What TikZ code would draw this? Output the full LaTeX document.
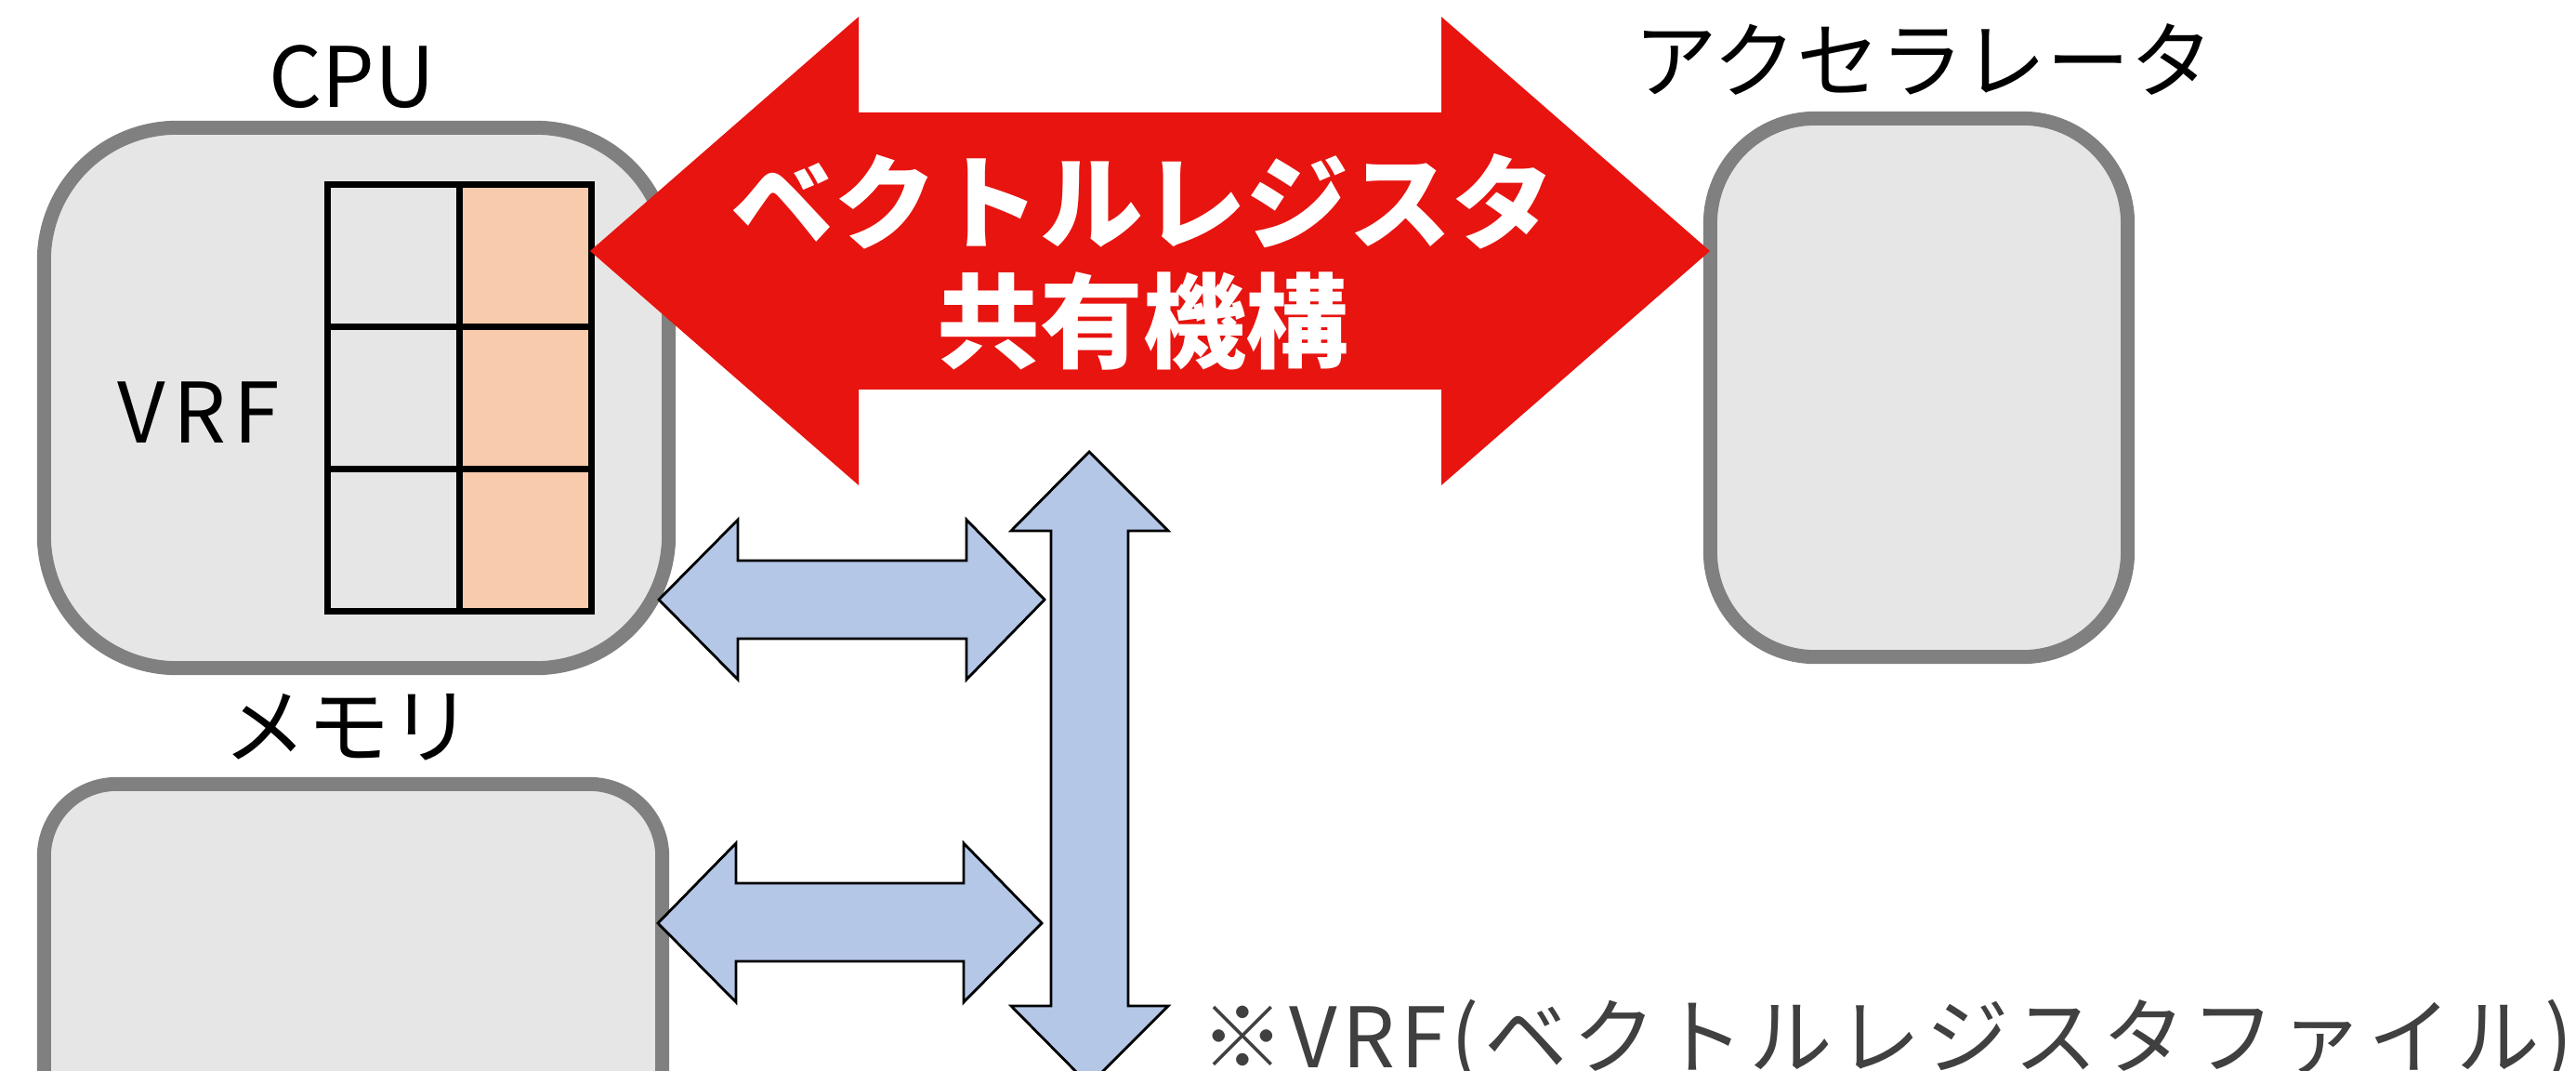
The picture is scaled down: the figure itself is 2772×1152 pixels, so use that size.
\documentclass[tikz,border=0pt]{standalone}
\usepackage{fontspec}
\setmainfont{Noto Sans CJK JP}
\definecolor{boxgray}{HTML}{E6E6E6}
\definecolor{boxline}{HTML}{808080}
\definecolor{peach}{HTML}{F8CBAD}
\definecolor{vecred}{HTML}{E71410}
\definecolor{busblue}{HTML}{B4C7E7}
\definecolor{notegray}{HTML}{404040}
\begin{document}
\begin{tikzpicture}[x=0.01cm,y=-0.01cm,
  lbl/.style={font=\fontsize{25.5}{30}\selectfont,inner sep=0pt},
  unit/.style={draw=boxline,fill=boxgray,line width=0.15cm,inner sep=0pt},
  cellL/.style={draw=black,fill=boxgray,line width=0.07cm,inner sep=0pt,minimum width=1.42cm,minimum height=1.53cm},
  cellR/.style={cellL,fill=peach},
  vecarrow/.style={fill=vecred},
  busarrow/.style={fill=busblue,draw=black,line width=0.8pt,line join=miter}]
\useasboundingbox (0,0) rectangle (2772,1152);
\clip (0,0) rectangle (2772,1152);
% units
\node[unit,rounded corners=1.43cm,minimum width=6.72cm,minimum height=5.81cm] (cpu) at (383.5,428) {};
\node[unit,rounded corners=1.13cm,minimum width=4.49cm,minimum height=5.79cm] (acc) at (2065,417) {};
\node[unit,rounded corners=0.78cm,minimum width=6.65cm,minimum height=4.5cm] (mem) at (380,1068.5) {};
\node[lbl,anchor=base] (cpulbl) at (379,116) {CPU};
\node[lbl] (acclbl) at (2070,64) {アクセラレータ};
\node[lbl] (memlbl) at (375,782) {メモリ};
\node[lbl,anchor=base] (vrflbl) at (214,477) {\addfontfeatures{LetterSpace=9}VRF};
% VRF
\foreach \r in {0,1,2}{
  \node[cellL] (vl\r) at (424,275.5+152.75*\r) {};
  \node[cellR] (vr\r) at (565.5,275.5+152.75*\r) {};
}
% sharing
\fill[vecarrow] (635,270)--(924,18)--(924,121)--(1551,121)--(1551,18)--(1840,270)--(1551,522)--(1551,419)--(924,419)--(924,522)--cycle;
\node[font=\fontsize{31.5}{36.4}\selectfont\bfseries,text=white,align=center,inner sep=0pt] (share) at (1230,282) {ベクトルレジスタ\\共有機構};
% bus
\draw[busarrow] (709,645)--(794,559)--(794,603)--(1040,603)--(1040,559)--(1124,645)--(1040,731)--(1040,687)--(794,687)--(794,731)--cycle;
\draw[busarrow] (708,993)--(792,907)--(792,950)--(1037,950)--(1037,907)--(1121,993)--(1037,1078)--(1037,1034)--(792,1034)--(792,1078)--cycle;
\draw[busarrow] (1172,486)--(1257,571)--(1214,571)--(1214,1082)--(1257,1082)--(1172,1167)--(1088,1082)--(1131,1082)--(1131,571)--(1088,571)--cycle;
\node[font=\fontsize{25.5}{30}\selectfont\addfontfeatures{LetterSpace=6},text=notegray,anchor=base west,inner sep=0pt] (note) at (1292,1148) {※VRF(ベクトルレジスタファイル)};
\end{tikzpicture}
\end{document}
